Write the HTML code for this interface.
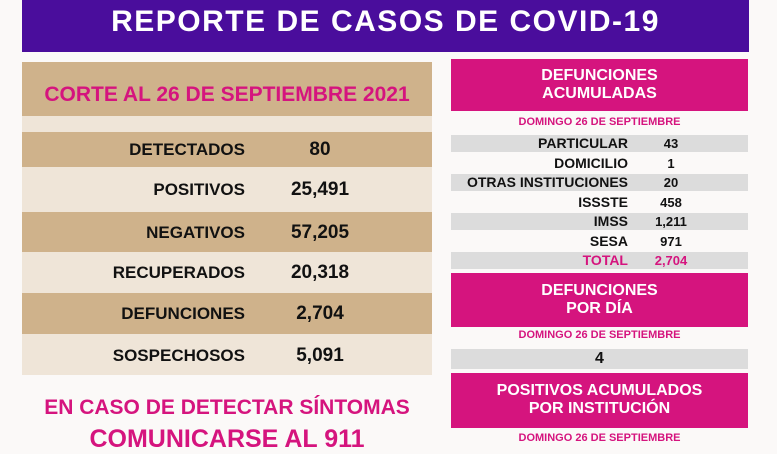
<html><head><style>
body{margin:0;width:777px;height:437px;overflow:hidden;background:#fbf9f8;font-family:"Liberation Sans",sans-serif;font-weight:bold;position:relative}
div{position:absolute;box-sizing:border-box}
.hdr{left:22px;top:0;width:727px;height:52px;background:#4a0d9c;color:#fff;font-size:30px;text-align:center;line-height:44px;letter-spacing:1.5px}
.tan{background:#cfb28b}.lt{background:#efe5d8}
.lab{font-size:17px;color:#111;text-align:right;width:223px;left:22px}
.val{font-size:19px;color:#111;left:265px;width:110px;text-align:center}
.pk{background:#d5147e;color:#fff;text-align:center;font-size:16px;line-height:18px;left:451px;width:297px}
.sub{color:#d5147e;font-size:11px;left:451px;width:297px;text-align:center}
.g{background:#dcdcdc;left:451px;width:297px;height:17px}
.rl{font-size:14px;color:#111;text-align:right;left:440px;width:188px;line-height:17px}
.rv{font-size:13px;color:#111;left:635px;width:72px;text-align:center;line-height:17px}
</style></head><body>
<div class="hdr">REPORTE DE CASOS DE COVID-19</div>
<div class="tan" style="left:22px;top:62px;width:410px;height:54px"></div>
<div style="left:22px;top:83px;width:410px;text-align:center;color:#d5147e;font-size:21px">CORTE AL 26 DE SEPTIEMBRE 2021</div>
<div class="lt" style="left:22px;top:116px;width:410px;height:16px"></div>
<div class="tan" style="left:22px;top:132px;width:410px;height:35px"></div>
<div class="lt" style="left:22px;top:167px;width:410px;height:45px"></div>
<div class="tan" style="left:22px;top:212px;width:410px;height:40px"></div>
<div class="lt" style="left:22px;top:252px;width:410px;height:41px"></div>
<div class="tan" style="left:22px;top:293px;width:410px;height:41px"></div>
<div class="lt" style="left:22px;top:334px;width:410px;height:41px"></div>
<div class="lab" style="top:140px">DETECTADOS</div><div class="val" style="top:139px">80</div>
<div class="lab" style="top:180px">POSITIVOS</div><div class="val" style="top:179px">25,491</div>
<div class="lab" style="top:223px">NEGATIVOS</div><div class="val" style="top:222px">57,205</div>
<div class="lab" style="top:263px">RECUPERADOS</div><div class="val" style="top:262px">20,318</div>
<div class="lab" style="top:304px">DEFUNCIONES</div><div class="val" style="top:303px">2,704</div>
<div class="lab" style="top:346px">SOSPECHOSOS</div><div class="val" style="top:345px">5,091</div>
<div style="left:22px;top:396px;width:410px;text-align:center;color:#d5147e;font-size:21px">EN CASO DE DETECTAR SÍNTOMAS</div>
<div style="left:22px;top:425px;width:410px;text-align:center;color:#d5147e;font-size:25px">COMUNICARSE AL 911</div>

<div class="pk" style="top:59px;height:52px;padding-top:8px">DEFUNCIONES<br>ACUMULADAS</div>
<div class="sub" style="top:116px">DOMINGO 26 DE SEPTIEMBRE</div>
<div class="g" style="top:135px"></div><div class="g" style="top:174px"></div><div class="g" style="top:213px"></div><div class="g" style="top:252px"></div>
<div class="rl" style="top:135px">PARTICULAR</div><div class="rv" style="top:135px">43</div>
<div class="rl" style="top:155px">DOMICILIO</div><div class="rv" style="top:155px">1</div>
<div class="rl" style="top:174px">OTRAS INSTITUCIONES</div><div class="rv" style="top:174px">20</div>
<div class="rl" style="top:194px">ISSSTE</div><div class="rv" style="top:194px">458</div>
<div class="rl" style="top:213px">IMSS</div><div class="rv" style="top:213px">1,211</div>
<div class="rl" style="top:233px">SESA</div><div class="rv" style="top:233px">971</div>
<div class="rl" style="top:252px;color:#d5147e">TOTAL</div><div class="rv" style="top:252px;color:#d5147e">2,704</div>
<div class="pk" style="top:273px;height:54px;padding-top:9px">DEFUNCIONES<br>POR DÍA</div>
<div class="sub" style="top:329px">DOMINGO 26 DE SEPTIEMBRE</div>
<div class="g" style="top:349px;height:20px;text-align:center;font-size:16px;line-height:20px;color:#111">4</div>
<div class="pk" style="top:373px;height:55px;padding-top:9px">POSITIVOS ACUMULADOS<br>POR INSTITUCIÓN</div>
<div class="sub" style="top:432px">DOMINGO 26 DE SEPTIEMBRE</div>
</body></html>
